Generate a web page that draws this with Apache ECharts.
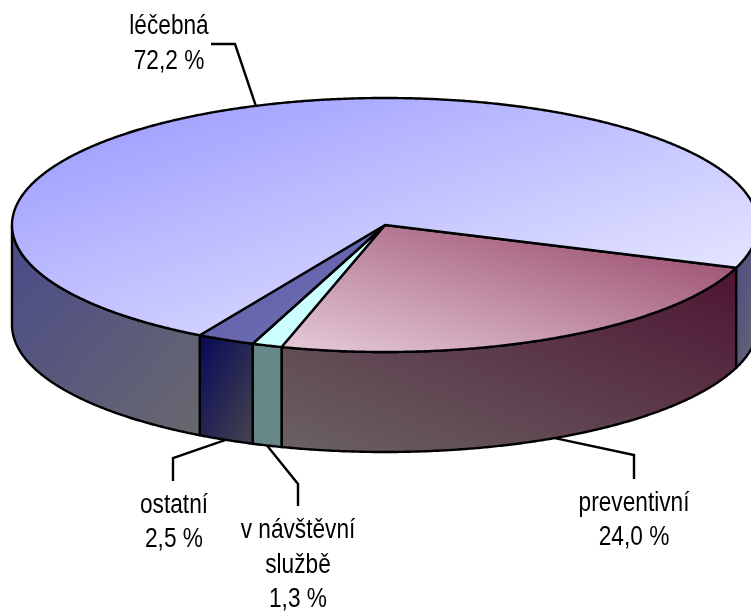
<!DOCTYPE html>
<html>
<head>
<meta charset="utf-8">
<style>html,body{margin:0;padding:0;background:#fff}#c{width:751px;height:611px}</style>
<script src="https://cdn.jsdelivr.net/npm/echarts@6/dist/echarts.min.js"></script>
</head>
<body>
<div id="c"></div>
<script>
// Data, in clockwise order
const categories = ['preventivní', 'v návštěvní\nslužbě', 'ostatní', 'léčebná'];
const shares = [24.0, 1.3, 2.5, 72.2];

// Layout and style
const startAngle = 19.7, cx = 385, cy = 225, rx = 373, ry = 127, depth = 100;
const total = shares.reduce((a, b) => a + b, 0);
// [from, to, direction]: 'up' = bottom-left to top-right, 'down' = top-left to bottom-right
const topFill = [
  ['#e6ccd9', '#934064', 'up'],
  ['#ccffff', '#ccffff', 'down'],
  ['#5858a6', '#7474b6', 'down'],
  ['#9696ff', '#f2f2ff', 'down']
];
const sideFill = [
  ['#6a6264', '#4e1432', 'up'],
  ['#668888', '#668888', 'down'],
  ['#08085a', '#44444e', 'down'],
  ['#4a4a8a', '#68686e', 'down']
];
const labelAt = [[634, 520.5], [298, 565.5], [174, 522.5], [169, 44]];
const elbows = [
  [[634, 455], [634, 479]],
  [[298, 484], [298, 506]],
  [[173, 458], [173, 481]],
  [[235, 44], [211, 44]]
];

const rim = (deg, dy) => {
  const t = deg * Math.PI / 180;
  return [cx + rx * Math.cos(t), cy + ry * Math.sin(t) + (dy || 0)];
};
const arc = (a, b, dy) => {
  const n = Math.max(2, Math.ceil(Math.abs(b - a) * 3)), out = [];
  for (let i = 0; i <= n; i++) out.push(rim(a + (b - a) * i / n, dy));
  return out;
};
// Gradient whose iso-lines run along the opposite diagonal of the shape's box
const grad = (c, pts) => {
  const xs = pts.map(p => p[0]), ys = pts.map(p => p[1]);
  const x0 = Math.min(...xs), x1 = Math.max(...xs), y0 = Math.min(...ys), y1 = Math.max(...ys);
  const w = x1 - x0, h = y1 - y0, k = 2 * w * h / (w * w + h * h);
  const up = c[2] === 'up';
  const sx = x0, sy = up ? y1 : y0;
  return {
    type: 'linear', global: true,
    x: sx, y: sy, x2: sx + h * k, y2: sy + (up ? -w : w) * k,
    colorStops: [{ offset: 0, color: c[0] }, { offset: 1, color: c[1] }]
  };
};
const stroke = { stroke: '#000', lineWidth: 2.4, lineJoin: 'round' };

function sideFaces(a0, a1, idx) {
  const parts = [];
  [[0, 180], [360, 540]].forEach(([lo, hi]) => {
    const s = Math.max(a0, lo), e = Math.min(a1, hi);
    if (e > s) {
      const points = arc(s, e, 0).concat(arc(e, s, depth));
      parts.push({
        type: 'polygon', z2: 1,
        shape: { points },
        style: Object.assign({ fill: grad(sideFill[idx], points) }, stroke)
      });
    }
  });
  return parts;
}

function renderItem(params, api) {
  const i = params.dataIndex;
  const before = shares.slice(0, i).reduce((a, b) => a + b, 0);
  const a0 = startAngle + before / total * 360;
  const a1 = a0 + api.value(0) / total * 360;
  const mid = (a0 + a1) / 2;
  const front = Math.sin(mid * Math.PI / 180) > 0;
  const leader = [rim(mid, front ? depth : 0)].concat(elbows[i]);
  const label = categories[i] + '\n' + api.value(0).toFixed(1).replace('.', ',') + ' %';
  const points = [[cx, cy]].concat(arc(a0, a1, 0));
  return {
    type: 'group',
    children: sideFaces(a0, a1, i).concat([
      {
        type: 'polygon', z2: 2,
        shape: { points },
        style: Object.assign({ fill: grad(topFill[i], points) }, stroke)
      },
      {
        type: 'polyline', z2: 0,
        shape: { points: leader },
        style: { fill: null, stroke: '#000', lineWidth: 2.4 }
      },
      {
        type: 'text', z2: 3,
        x: labelAt[i][0], y: labelAt[i][1], scaleX: 0.84,
        style: {
          text: label, fill: '#000',
          font: '27px "Liberation Sans", Arial, sans-serif',
          textAlign: 'center', textVerticalAlign: 'middle',
          lineHeight: 34.5
        }
      }
    ])
  };
}

const chart = echarts.init(document.getElementById('c'), null, { renderer: 'canvas' });
chart.setOption({
  animation: false,
  backgroundColor: '#fff',
  series: [{
    type: 'custom',
    coordinateSystem: 'none',
    clip: false,
    renderItem,
    data: shares.map(v => [v])
  }]
});
</script>
</body>
</html>
